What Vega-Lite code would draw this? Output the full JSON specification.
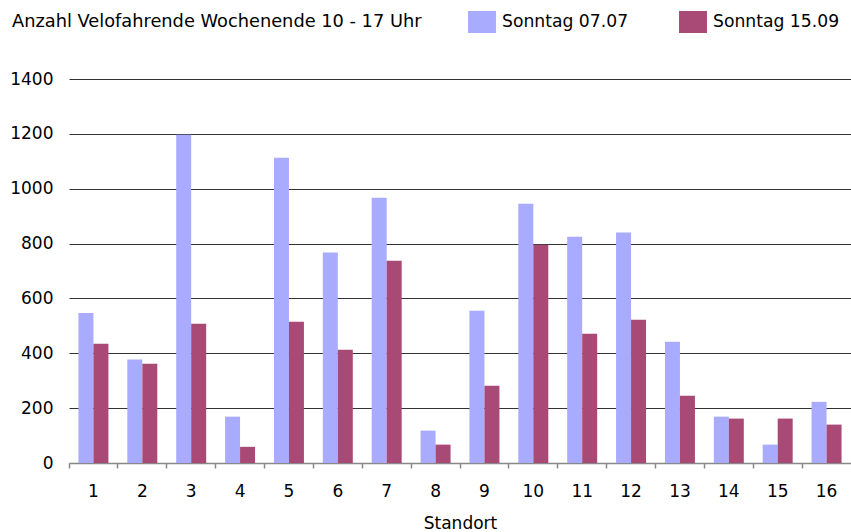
{
  "$schema": "https://vega.github.io/schema/vega-lite/v6.json",
  "autosize": {"type": "none"},
  "width": 782,
  "height": 384,
  "padding": {"left": 69, "top": 79, "right": 0, "bottom": 69},
  "background": "white",
  "data": {
    "values": [
      {"Standort": "1", "Tag": "Sonntag 07.07", "Anzahl": 547},
      {"Standort": "1", "Tag": "Sonntag 15.09", "Anzahl": 435},
      {"Standort": "2", "Tag": "Sonntag 07.07", "Anzahl": 377},
      {"Standort": "2", "Tag": "Sonntag 15.09", "Anzahl": 362},
      {"Standort": "3", "Tag": "Sonntag 07.07", "Anzahl": 1197},
      {"Standort": "3", "Tag": "Sonntag 15.09", "Anzahl": 508},
      {"Standort": "4", "Tag": "Sonntag 07.07", "Anzahl": 169},
      {"Standort": "4", "Tag": "Sonntag 15.09", "Anzahl": 59},
      {"Standort": "5", "Tag": "Sonntag 07.07", "Anzahl": 1113},
      {"Standort": "5", "Tag": "Sonntag 15.09", "Anzahl": 515},
      {"Standort": "6", "Tag": "Sonntag 07.07", "Anzahl": 767},
      {"Standort": "6", "Tag": "Sonntag 15.09", "Anzahl": 413},
      {"Standort": "7", "Tag": "Sonntag 07.07", "Anzahl": 967},
      {"Standort": "7", "Tag": "Sonntag 15.09", "Anzahl": 737},
      {"Standort": "8", "Tag": "Sonntag 07.07", "Anzahl": 118},
      {"Standort": "8", "Tag": "Sonntag 15.09", "Anzahl": 67},
      {"Standort": "9", "Tag": "Sonntag 07.07", "Anzahl": 555},
      {"Standort": "9", "Tag": "Sonntag 15.09", "Anzahl": 282},
      {"Standort": "10", "Tag": "Sonntag 07.07", "Anzahl": 945},
      {"Standort": "10", "Tag": "Sonntag 15.09", "Anzahl": 796},
      {"Standort": "11", "Tag": "Sonntag 07.07", "Anzahl": 825},
      {"Standort": "11", "Tag": "Sonntag 15.09", "Anzahl": 471},
      {"Standort": "12", "Tag": "Sonntag 07.07", "Anzahl": 840},
      {"Standort": "12", "Tag": "Sonntag 15.09", "Anzahl": 522},
      {"Standort": "13", "Tag": "Sonntag 07.07", "Anzahl": 442},
      {"Standort": "13", "Tag": "Sonntag 15.09", "Anzahl": 245},
      {"Standort": "14", "Tag": "Sonntag 07.07", "Anzahl": 169},
      {"Standort": "14", "Tag": "Sonntag 15.09", "Anzahl": 162},
      {"Standort": "15", "Tag": "Sonntag 07.07", "Anzahl": 67},
      {"Standort": "15", "Tag": "Sonntag 15.09", "Anzahl": 162},
      {"Standort": "16", "Tag": "Sonntag 07.07", "Anzahl": 223},
      {"Standort": "16", "Tag": "Sonntag 15.09", "Anzahl": 140}
    ]
  },
  "mark": {"type": "bar"},
  "encoding": {
    "x": {
      "field": "Standort",
      "type": "ordinal",
      "sort": null,
      "scale": {"paddingInner": 0, "paddingOuter": 0},
      "axis": {
        "title": "Standort",
        "labelAngle": 0,
        "bandPosition": 0,
        "labelOffset": 0,
        "tickSize": 5,
        "tickColor": "#888888",
        "tickWidth": 1.5,
        "domainColor": "#888888",
        "domainWidth": 1.5,
        "labelPadding": 15,
        "titlePadding": 16,
        "grid": false
      }
    },
    "xOffset": {
      "field": "Tag",
      "type": "nominal",
      "scale": {"paddingInner": 0, "paddingOuter": 0.63}
    },
    "y": {
      "field": "Anzahl",
      "type": "quantitative",
      "scale": {"domain": [0, 1400], "nice": false},
      "axis": {
        "title": null,
        "format": "d",
        "values": [0, 200, 400, 600, 800, 1000, 1200, 1400],
        "domain": false,
        "ticks": false,
        "tickSize": 0,
        "labelPadding": 16,
        "grid": true,
        "gridColor": {"condition": {"test": "datum.value === 0", "value": "#888888"}, "value": "#333333"},
        "gridWidth": 1.2
      }
    },
    "color": {
      "field": "Tag",
      "type": "nominal",
      "scale": {"domain": ["Sonntag 07.07", "Sonntag 15.09"], "range": ["#A9ABFE", "#A94A76"]},
      "legend": {
        "title": "Anzahl Velofahrende Wochenende 10 - 17 Uhr",
        "orient": "none",
        "legendX": -57,
        "legendY": -68,
        "direction": "horizontal",
        "titleOrient": "left",
        "titlePadding": 49,
        "titleLimit": 600,
        "titleFontSize": 17.8,
        "titleFontWeight": "normal",
        "titleColor": "#000000",
        "titleBaseline": "middle",
        "symbolType": "M-1.27,-1L1.27,-1L1.27,1L-1.27,1Z",
        "symbolSize": 484,
        "symbolStrokeWidth": 0,
        "symbolOpacity": 1,
        "labelFontSize": 17.2,
        "labelColor": "#000000",
        "labelOffset": 9,
        "columnPadding": 50
      }
    }
  },
  "config": {
    "font": "DejaVu Sans",
    "view": {"stroke": null},
    "bar": {"opacity": 1},
    "axis": {
      "labelFont": "DejaVu Sans",
      "labelFontSize": 17,
      "labelColor": "#000000",
      "titleFont": "DejaVu Sans",
      "titleFontSize": 17,
      "titleFontWeight": "normal",
      "titleColor": "#000000"
    },
    "legend": {"labelFont": "DejaVu Sans", "titleFont": "DejaVu Sans"}
  }
}
